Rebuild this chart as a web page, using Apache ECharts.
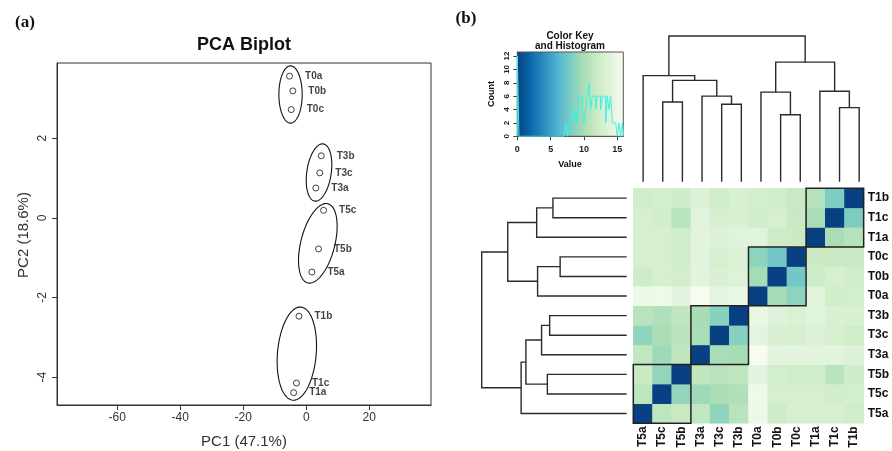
<!DOCTYPE html>
<html><head><meta charset="utf-8">
<script src="https://cdn.jsdelivr.net/npm/echarts@6/dist/echarts.min.js"></script>
<style>html,body{margin:0;padding:0;background:#fff}#c{width:892px;height:451px}</style>
</head><body><div id="c"></div>
<script>
// ---------- Panel (a): PCA biplot ----------
const pcaNames = ['T0a','T0b','T0c','T3b','T3c','T3a','T5c','T5b','T5a','T1b','T1c','T1a'];
const pc1 = [-5.3, -4.25, -4.76, 4.76, 4.3, 3.05, 5.5, 3.9, 1.8, -2.3, -3.1, -4.0];
const pc2 = [3.56, 3.19, 2.72, 1.56, 1.13, 0.75, 0.19, -0.78, -1.36, -2.47, -4.15, -4.39];
const pcaXTicks = [-60, -40, -20, 0, 20];
const pcaYTicks = [-4, -2, 0, 2];
// group ellipses (data units): centre, half-extent in x and y, tilt (correlation)
const ellGroups = ['T0', 'T3', 'T5', 'T1'];
const ellCx = [-4.98, 4.06, 3.68, -2.98];
const ellCy = [3.10, 1.14, -0.64, -3.41];
const ellRx = [3.7, 4.06, 6.13, 6.25];
const ellRy = [0.72, 0.72, 1.0, 1.17];
const ellTilt = [0.0, 0.27, 0.43, 0.17];

// ---------- Panel (b): heatmap ----------
const hmLabels = ['T5a','T5c','T5b','T3a','T3c','T3b','T0a','T0b','T0c','T1a','T1c','T1b'];
const distMatrix = [
  [0, 11.1, 11.8, 11.3, 8.9, 10.8, 15.0, 12.2, 12.9, 13.0, 12.8, 12.3],
  [11.1, 0, 9.0, 9.5, 10.1, 10.4, 15.2, 12.8, 12.9, 12.8, 12.5, 12.6],
  [11.8, 9.0, 0, 11.2, 11.0, 11.2, 14.2, 12.6, 12.3, 12.3, 10.9, 12.2],
  [11.3, 9.5, 11.2, 0, 10.0, 9.9, 15.8, 14.1, 14.1, 14.2, 14.1, 13.5],
  [8.9, 10.1, 11.0, 10.0, 0, 8.5, 14.3, 13.2, 12.8, 13.5, 12.8, 12.3],
  [10.8, 10.4, 11.2, 9.9, 8.5, 0, 14.7, 13.7, 13.4, 13.9, 13.2, 13.1],
  [15.0, 15.2, 14.2, 15.8, 14.3, 14.7, 0, 9.8, 8.8, 13.9, 12.4, 12.6],
  [12.2, 12.8, 12.6, 14.1, 13.2, 13.7, 9.8, 0, 7.6, 12.0, 12.8, 12.3],
  [12.9, 12.9, 12.3, 14.1, 12.8, 13.4, 8.8, 7.6, 0, 11.9, 11.7, 11.7],
  [13.0, 12.8, 12.3, 14.2, 13.5, 13.9, 13.9, 12.0, 11.9, 0, 10.0, 10.7],
  [12.8, 12.5, 10.9, 14.1, 12.8, 13.2, 12.4, 12.8, 11.7, 10.0, 0, 8.1],
  [12.3, 12.6, 12.2, 13.5, 12.3, 13.1, 12.6, 12.3, 11.7, 10.7, 8.1, 0]
];
const blockStart = [0, 3, 6, 9];
const blockEnd = [2, 5, 8, 11];
// dendrogram merges (hclust style, '#k' = result of merge k)
const mergeA = ['T3c','T5c','T0b','T1c','T3a','T0a','T1a','#2','T5a','#6','#9'];
const mergeB = ['T3b','T5b','T0c','T1b','#1','#3','#4','#5','#8','#7','#10'];
const mergeH = [7.72, 7.95, 6.67, 7.39, 8.53, 8.93, 9.02, 10.1, 10.58, 11.92, 14.53];
const treeMax = 14.53;

// colour key
const keyColors = ['#084081','#0868ac','#2b8cbe','#4eb3d3','#7bccc4','#a8ddb5','#ccebc5','#e0f3db','#f7fcf0'];
const keyMax = 15.9;
const countMax = 12.6;
const keyTicks = [0, 5, 10, 15];
const countTicks = [0, 2, 4, 6, 8, 10, 12];
const histBinWidth = 0.25;
const histLeft = [0, 7.0, 7.25, 7.5, 7.75, 8.0, 8.25, 8.5, 8.75, 9.0, 9.25, 9.5, 9.75, 10.0, 10.25, 10.5, 10.75,
  11.0, 11.25, 11.5, 11.75, 12.0, 12.25, 12.5, 12.75, 13.0, 13.25, 13.5, 13.75, 14.0, 14.25, 14.5, 14.75,
  15.0, 15.25, 15.5, 15.75];
const histCounts = [12, 0, 2, 0, 2, 2, 4, 2, 4, 2, 6, 6, 4, 2, 4, 6, 8,
  4, 6, 6, 4, 6, 6, 4, 6, 6, 2, 6, 4, 6, 2, 2, 2,
  0, 2, 0, 2];

// ---------- build ----------
const FONT = 'Liberation Sans, Arial, sans-serif';
const scatterData = pcaNames.map((n, i) => ({ name: n, value: [pc1[i], pc2[i]] }));
const ellData = ellGroups.map((g, i) => ({ name: g, value: [ellCx[i], ellCy[i], ellRx[i], ellRy[i], ellTilt[i]] }));
const hmData = [];
for (let r = 0; r < hmLabels.length; r++)
  for (let c = 0; c < hmLabels.length; c++) hmData.push([c, r, distMatrix[r][c]]);
const blockData = blockStart.map((s, i) => [s, blockEnd[i]]);

const pos = {}, hgt = {};
hmLabels.forEach((n, i) => { pos[n] = i; hgt[n] = 0; });
const treeNodes = [];
mergeA.forEach((a, i) => {
  const b = mergeB[i], id = '#' + (i + 1);
  pos[id] = (pos[a] + pos[b]) / 2; hgt[id] = mergeH[i];
  treeNodes.push([pos[a], hgt[a], pos[b], hgt[b], mergeH[i]]);
});

const histLine = [[0, 0]];
let prevRight = 0;
histLeft.forEach((l, i) => {
  if (Math.abs(l - prevRight) > 1e-9) { histLine.push([prevRight, 0]); histLine.push([l, 0]); }
  histLine.push([l, histCounts[i]]);
  histLine.push([l + histBinWidth, histCounts[i]]);
  prevRight = l + histBinWidth;
});
histLine.push([prevRight, 0]);

const hidden = { show: false };
const chart = echarts.init(document.getElementById('c'));
chart.setOption({
  animation: false,
  backgroundColor: '#fff',
  textStyle: { fontFamily: FONT },
  grid: [
    { left: 57, top: 63, width: 374, height: 342, show: true, borderColor: '#333', borderWidth: 1, backgroundColor: 'transparent' },
    { left: 633.3, top: 188.3, width: 235.7, height: 235 },
    { left: 633.3, top: 36, width: 235.7, height: 145.7 },
    { left: 481.7, top: 188.3, width: 145, height: 235 },
    { left: 517.3, top: 52, width: 106, height: 84.3 }
  ],
  xAxis: [
    { gridIndex: 0, type: 'value', min: -79.1, max: 39.6, splitLine: hidden,
      axisLine: { show: true, onZero: false, lineStyle: { color: '#333' } },
      axisTick: { show: true, customValues: pcaXTicks, length: 5, lineStyle: { color: '#333' } },
      axisLabel: { customValues: pcaXTicks, fontSize: 12, color: '#333', margin: 7, fontFamily: FONT } },
    { gridIndex: 1, type: 'category', data: hmLabels, position: 'bottom', axisLine: hidden, axisTick: hidden,
      axisLabel: { rotate: 90, fontSize: 12, fontWeight: 'bold', color: '#111', margin: 3, fontFamily: FONT } },
    { gridIndex: 2, type: 'value', min: -0.5, max: 11.5, show: false },
    { gridIndex: 3, type: 'value', min: 0, max: treeMax, inverse: true, show: false },
    { gridIndex: 4, type: 'value', min: 0, max: keyMax, splitLine: hidden,
      axisLine: { show: true, onZero: false, lineStyle: { color: '#444' } },
      axisTick: { show: true, customValues: keyTicks, length: 4, lineStyle: { color: '#444' } },
      axisLabel: { customValues: keyTicks, fontSize: 9, fontWeight: 'bold', color: '#222', margin: 9, fontFamily: FONT } }
  ],
  yAxis: [
    { gridIndex: 0, type: 'value', min: -4.70, max: 3.89, splitLine: hidden,
      axisLine: { show: true, onZero: false, lineStyle: { color: '#333' } },
      axisTick: { show: true, customValues: pcaYTicks, length: 5, lineStyle: { color: '#333' } },
      axisLabel: { customValues: pcaYTicks, rotate: 90, fontSize: 12, color: '#333', margin: 8, fontFamily: FONT } },
    { gridIndex: 1, type: 'category', data: hmLabels, position: 'right', axisLine: hidden, axisTick: hidden,
      axisLabel: { fontSize: 12, fontWeight: 'bold', color: '#111', margin: 4, fontFamily: FONT } },
    { gridIndex: 2, type: 'value', min: 0, max: treeMax, show: false },
    { gridIndex: 3, type: 'value', min: -0.5, max: 11.5, show: false },
    { gridIndex: 4, type: 'value', min: 0, max: countMax, splitLine: hidden,
      axisLine: { show: true, onZero: false, lineStyle: { color: '#444' } },
      axisTick: { show: true, customValues: countTicks, length: 4, lineStyle: { color: '#444' } },
      axisLabel: { customValues: countTicks, rotate: 90, fontSize: 8, fontWeight: 'bold', color: '#222', margin: 7, fontFamily: FONT } }
  ],
  visualMap: [{ type: 'continuous', show: false, min: 0, max: keyMax, seriesIndex: 2, inRange: { color: keyColors } }],
  series: [
    { type: 'scatter', xAxisIndex: 0, yAxisIndex: 0, data: scatterData, symbol: 'circle', symbolSize: 6,
      itemStyle: { color: 'rgba(255,255,255,0)', borderColor: '#111', borderWidth: 1 },
      label: { show: true, position: 'right', distance: 12, formatter: '{b}', fontSize: 10, fontWeight: 'bold', color: '#111', fontFamily: FONT },
      z: 4 },
    { type: 'custom', xAxisIndex: 0, yAxisIndex: 0, data: ellData, z: 3,
      renderItem: function (params, api) {
        const cx = api.value(0), cy = api.value(1), rx = api.value(2), ry = api.value(3), t = api.value(4);
        const s = Math.sqrt(1 - t * t), pts = [];
        for (let k = 0; k <= 120; k++) {
          const a = k / 120 * 2 * Math.PI;
          pts.push(api.coord([cx + rx * Math.cos(a), cy + ry * (t * Math.cos(a) + s * Math.sin(a))]));
        }
        return { type: 'polygon', shape: { points: pts }, style: { fill: 'none', stroke: '#111', lineWidth: 1.1 } };
      } },
    { type: 'heatmap', xAxisIndex: 1, yAxisIndex: 1, data: hmData, itemStyle: { borderWidth: 0 }, emphasis: { disabled: true } },
    { type: 'custom', xAxisIndex: 1, yAxisIndex: 1, data: blockData, z: 5,
      renderItem: function (params, api) {
        const s = api.value(0), e = api.value(1), sz = api.size([1, 1]);
        const p0 = api.coord([s, s]), p1 = api.coord([e, e]);
        const x0 = p0[0] - sz[0] / 2, x1 = p1[0] + sz[0] / 2, yb = p0[1] + sz[1] / 2, yt = p1[1] - sz[1] / 2;
        return { type: 'rect', shape: { x: x0, y: yt, width: x1 - x0, height: yb - yt }, style: { fill: 'none', stroke: '#222', lineWidth: 1.5 } };
      } },
    { type: 'custom', xAxisIndex: 2, yAxisIndex: 2, data: treeNodes,
      renderItem: function (params, api) {
        const pa = api.value(0), ha = api.value(1), pb = api.value(2), hb = api.value(3), h = api.value(4);
        return { type: 'polyline', shape: { points: [api.coord([pa, ha]), api.coord([pa, h]), api.coord([pb, h]), api.coord([pb, hb])] },
          style: { fill: 'none', stroke: '#2a2a2a', lineWidth: 1.4 } };
      } },
    { type: 'custom', xAxisIndex: 3, yAxisIndex: 3, data: treeNodes,
      renderItem: function (params, api) {
        const pa = api.value(0), ha = api.value(1), pb = api.value(2), hb = api.value(3), h = api.value(4);
        return { type: 'polyline', shape: { points: [api.coord([ha, pa]), api.coord([h, pa]), api.coord([h, pb]), api.coord([hb, pb])] },
          style: { fill: 'none', stroke: '#2a2a2a', lineWidth: 1.4 } };
      } },
    { type: 'custom', xAxisIndex: 4, yAxisIndex: 4, data: [[0, keyMax]], z: 1,
      renderItem: function (params, api) {
        const p0 = api.coord([api.value(0), 0]), p1 = api.coord([api.value(1), countMax]);
        const stops = keyColors.map((c, i) => ({ offset: i / (keyColors.length - 1), color: c }));
        return { type: 'group', children: [
          { type: 'rect', shape: { x: p0[0], y: p1[1], width: p1[0] - p0[0], height: p0[1] - p1[1] },
            style: { fill: new echarts.graphic.LinearGradient(0, 0, 1, 0, stops) } },
          { type: 'rect', z2: 10, shape: { x: p0[0], y: p1[1], width: p1[0] - p0[0], height: p0[1] - p1[1] },
            style: { fill: 'none', stroke: '#555', lineWidth: 1 } }
        ] };
      } },
    { type: 'line', xAxisIndex: 4, yAxisIndex: 4, data: histLine, showSymbol: false, symbol: 'none', z: 3,
      lineStyle: { color: '#3ff0e2', width: 1 }, clip: true }
  ],
  graphic: [
    { type: 'text', x: 25, y: 23, style: { text: '(a)', font: 'bold 17px "Liberation Serif", serif', fill: '#111', textAlign: 'center', textVerticalAlign: 'middle' } },
    { type: 'text', x: 244, y: 45, style: { text: 'PCA Biplot', font: 'bold 18px ' + FONT, fill: '#111', textAlign: 'center', textVerticalAlign: 'middle' } },
    { type: 'text', x: 244, y: 441.5, style: { text: 'PC1 (47.1%)', font: '15px ' + FONT, fill: '#333', textAlign: 'center', textVerticalAlign: 'middle' } },
    { type: 'text', x: 23.5, y: 235, rotation: Math.PI / 2, style: { text: 'PC2 (18.6%)', font: '15px ' + FONT, fill: '#333', textAlign: 'center', textVerticalAlign: 'middle' } },
    { type: 'text', x: 466, y: 19, style: { text: '(b)', font: 'bold 17px "Liberation Serif", serif', fill: '#111', textAlign: 'center', textVerticalAlign: 'middle' } },
    { type: 'text', x: 570, y: 36, style: { text: 'Color Key', font: 'bold 10px ' + FONT, fill: '#111', textAlign: 'center', textVerticalAlign: 'middle' } },
    { type: 'text', x: 570, y: 46.5, style: { text: 'and Histogram', font: 'bold 10px ' + FONT, fill: '#111', textAlign: 'center', textVerticalAlign: 'middle' } },
    { type: 'text', x: 570, y: 164.5, style: { text: 'Value', font: 'bold 9px ' + FONT, fill: '#111', textAlign: 'center', textVerticalAlign: 'middle' } },
    { type: 'text', x: 492, y: 94, rotation: Math.PI / 2, style: { text: 'Count', font: 'bold 9px ' + FONT, fill: '#111', textAlign: 'center', textVerticalAlign: 'middle' } }
  ]
});
</script></body></html>
